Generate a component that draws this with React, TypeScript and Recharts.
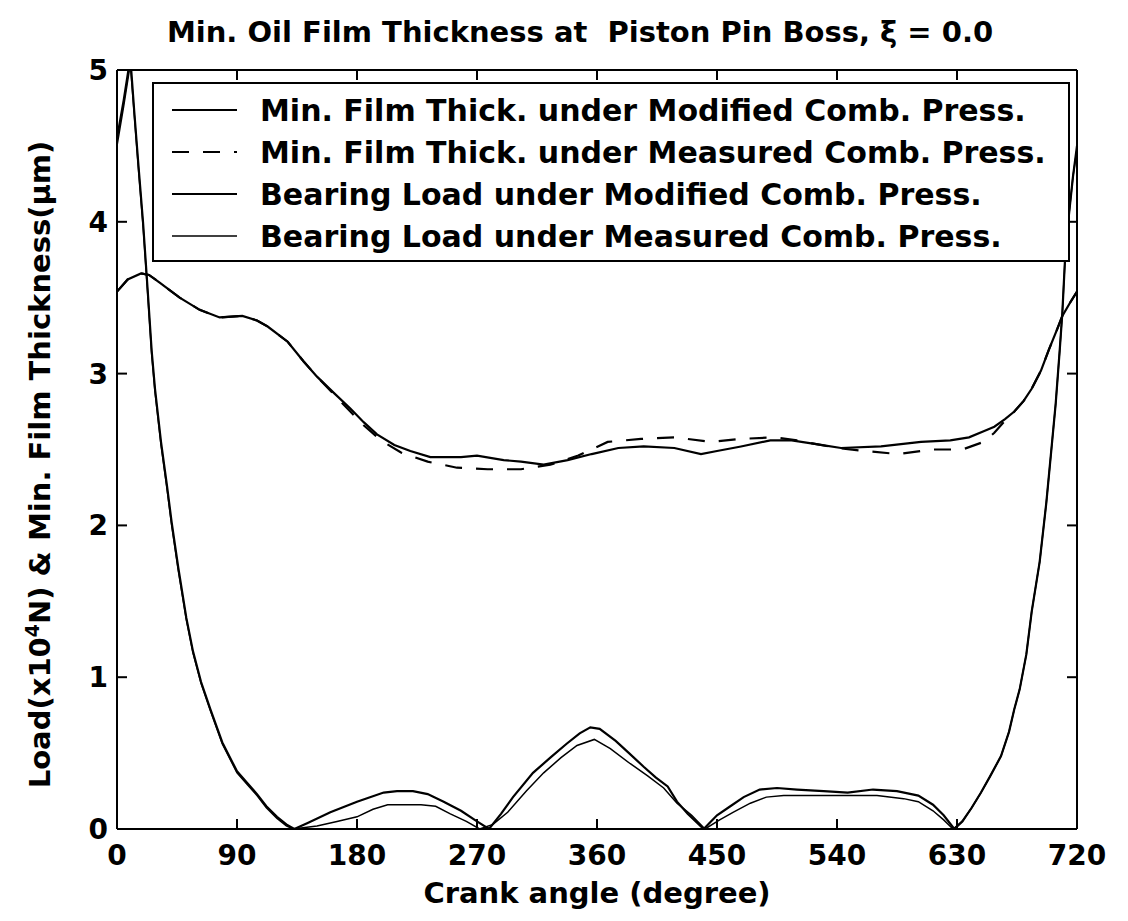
import React from 'react';
import { LineChart, Line, XAxis, YAxis, Legend } from 'recharts';

const angleTicks = [0, 90, 180, 270, 360, 450, 540, 630, 720];
const valueTicks = [0, 1, 2, 3, 4, 5];

const titleText = 'Min. Oil Film Thickness at  Piston Pin Boss, \u03BE = 0.0';
const xLabelText = 'Crank angle (degree)';

const seriesNames = [
  'Min. Film Thick. under Modified Comb. Press.',
  'Min. Film Thick. under Measured Comb. Press.',
  'Bearing Load under Modified Comb. Press.',
  'Bearing Load under Measured Comb. Press.',
];

const filmModified: [number, number][] = [
  [0, 3.54], [8, 3.62], [18, 3.66], [24, 3.65], [32, 3.6], [47, 3.5], [62, 3.42], [77, 3.37],
  [94, 3.38], [105, 3.35], [113, 3.31], [128, 3.21], [140, 3.08], [150, 2.98], [163, 2.87],
  [175, 2.77], [185, 2.68], [195, 2.6], [208, 2.53], [220, 2.49], [235, 2.45], [258, 2.45],
  [270, 2.46], [290, 2.43], [303, 2.42], [320, 2.4], [338, 2.43], [356, 2.47], [376, 2.51],
  [395, 2.52], [418, 2.51], [438, 2.47], [450, 2.49], [468, 2.52], [490, 2.56], [506, 2.56],
  [528, 2.53], [543, 2.51], [573, 2.52], [603, 2.55], [625, 2.56], [639, 2.58], [650, 2.62],
  [658, 2.65], [666, 2.7], [673, 2.75], [680, 2.82], [686, 2.9], [693, 3.02], [699, 3.16],
  [705, 3.29], [709, 3.38], [715, 3.47], [720, 3.54],
];

const filmMeasured: [number, number][] = [
  [0, 3.54], [8, 3.62], [18, 3.66], [24, 3.65], [32, 3.6], [47, 3.5], [62, 3.42], [77, 3.37],
  [94, 3.38], [105, 3.35], [113, 3.31], [128, 3.21], [140, 3.08], [150, 2.98], [163, 2.86],
  [175, 2.75], [185, 2.66], [198, 2.56], [213, 2.48], [233, 2.42], [255, 2.38], [278, 2.37],
  [303, 2.37], [325, 2.4], [346, 2.46], [368, 2.55], [393, 2.57], [418, 2.58], [446, 2.55],
  [468, 2.57], [493, 2.58], [510, 2.56], [540, 2.51], [561, 2.49], [586, 2.47], [611, 2.5],
  [634, 2.5], [650, 2.55], [658, 2.61], [666, 2.69], [673, 2.75], [680, 2.82], [686, 2.9],
  [693, 3.02], [699, 3.16], [705, 3.29], [709, 3.38], [715, 3.47], [720, 3.54],
];

const loadModified: [number, number][] = [
  [0, 4.55], [5, 4.8], [10, 5.08], [13, 4.72], [16, 4.38], [19.5, 4.0], [23, 3.55], [26, 3.15],
  [28.5, 2.9], [33, 2.55], [37.5, 2.26], [41, 2.02], [46, 1.72], [52, 1.39], [57, 1.17],
  [63, 0.97], [70, 0.79], [79, 0.57], [90, 0.38], [98, 0.3], [105, 0.23], [112, 0.15],
  [120, 0.08], [127, 0.03], [133, 0], [143, 0.04], [160, 0.11], [180, 0.18], [200, 0.24],
  [210, 0.25], [222, 0.25], [233, 0.23], [245, 0.18], [258, 0.12], [270, 0.05], [279, 0],
  [288, 0.1], [297, 0.21], [312, 0.37], [325, 0.47], [337, 0.56], [347, 0.63], [355, 0.67],
  [362, 0.66], [374, 0.58], [384, 0.5], [395, 0.41], [404, 0.34], [413, 0.28], [420, 0.18],
  [428, 0.1], [440, 0], [450, 0.09], [460, 0.15], [470, 0.21], [482, 0.26], [495, 0.27],
  [510, 0.26], [530, 0.25], [548, 0.24], [567, 0.26], [585, 0.25], [601, 0.22], [612, 0.16],
  [620, 0.09], [628, 0], [634, 0.05], [641, 0.14], [648, 0.24], [655, 0.35], [663, 0.48],
  [669, 0.64], [673, 0.79], [677, 0.92], [682, 1.15], [686, 1.43], [692, 1.76], [697, 2.15],
  [701, 2.52], [704, 2.8], [707, 3.15], [709, 3.4], [711, 3.75], [714, 4.05], [717, 4.3],
  [720, 4.5],
];

const loadMeasured: [number, number][] = [
  [0, 4.5], [5, 4.76], [10, 5.04], [13, 4.7], [16, 4.36], [19.5, 3.98], [23, 3.53], [26, 3.13],
  [28.5, 2.88], [33, 2.53], [37.5, 2.24], [41, 2.0], [46, 1.7], [52, 1.38], [57, 1.16],
  [63, 0.96], [70, 0.78], [79, 0.56], [90, 0.37], [98, 0.29], [105, 0.22], [112, 0.14],
  [120, 0.07], [127, 0.02], [132, 0], [150, 0.02], [165, 0.05], [180, 0.08], [192, 0.13],
  [203, 0.16], [215, 0.16], [228, 0.16], [239, 0.15], [250, 0.1], [262, 0.05], [272, 0],
  [282, 0.03], [293, 0.11], [307, 0.25], [320, 0.37], [333, 0.47], [345, 0.55], [358, 0.59],
  [370, 0.53], [385, 0.43], [398, 0.35], [410, 0.27], [420, 0.17], [431, 0.09], [441, 0],
  [452, 0.06], [462, 0.11], [475, 0.17], [487, 0.21], [500, 0.22], [520, 0.22], [550, 0.22],
  [570, 0.22], [590, 0.2], [601, 0.18], [612, 0.12], [620, 0.06], [627, 0], [634, 0.05],
  [641, 0.14], [648, 0.24], [655, 0.35], [663, 0.48], [669, 0.64], [673, 0.79], [677, 0.92],
  [682, 1.15], [686, 1.43], [692, 1.76], [697, 2.15], [701, 2.52], [704, 2.8], [707, 3.15],
  [709, 3.4], [711, 3.75], [714, 4.05], [717, 4.3], [720, 4.48],
];

const toPoints = (arr: [number, number][]) => arr.map(([a, v]) => ({ a, v }));

const FONT = '"DejaVu Sans", sans-serif';
const AXIS_STYLE = { stroke: '#000', strokeWidth: 2 };
const TICK_LEN = 10;
const BOTTOM_MARGIN = 16;
const LEFT_MARGIN = 9;

const BottomTick = (props: any) => {
  const { x, y, payload } = props;
  const base = y - BOTTOM_MARGIN;
  return (
    <g>
      <line x1={x} x2={x} y1={base} y2={base - TICK_LEN} stroke="#000" strokeWidth={2} />
      <text x={x} y={y} dy="0.71em" textAnchor="middle" fontFamily={FONT} fontSize={28} fontWeight="bold" fill="#000">
        {payload.value}
      </text>
    </g>
  );
};

const LeftTick = (props: any) => {
  const { x, y, payload } = props;
  const base = x + LEFT_MARGIN;
  return (
    <g>
      <line x1={base} x2={base + TICK_LEN} y1={y} y2={y} stroke="#000" strokeWidth={2} />
      <text x={x} y={y} dy="0.36em" textAnchor="end" fontFamily={FONT} fontSize={28} fontWeight="bold" fill="#000">
        {payload.value}
      </text>
    </g>
  );
};

const TopTick = (props: any) => {
  const { x, y } = props;
  return <line x1={x} x2={x} y1={y} y2={y + TICK_LEN} stroke="#000" strokeWidth={2} />;
};

const RightTick = (props: any) => {
  const { x, y } = props;
  return <line x1={x} x2={x - TICK_LEN} y1={y} y2={y} stroke="#000" strokeWidth={2} />;
};

const renderLegend = (props: any) => {
  const items = [...(props.payload || [])].sort(
    (p: any, q: any) => seriesNames.indexOf(p.value) - seriesNames.indexOf(q.value)
  );
  return (
    <svg width={918} height={180} style={{ display: 'block' }}>
      <rect x={1} y={1} width={916} height={178} fill="#fff" stroke="#000" strokeWidth={2} />
      {items.map((it: any, i: number) => {
        const y = 28 + i * 42;
        const p = it.payload || {};
        return (
          <g key={i}>
            <line
              x1={20}
              x2={85}
              y1={y}
              y2={y}
              stroke="#000"
              strokeWidth={p.strokeWidth || 2}
              strokeDasharray={p.strokeDasharray}
            />
            <text x={108} y={y} dy="0.36em" fontFamily={FONT} fontWeight="bold" fontSize={30} fill="#000">
              {it.value}
            </text>
          </g>
        );
      })}
    </svg>
  );
};

const renderYLabel = (props: any) => {
  const vb = props.viewBox || { x: 0, y: 62, width: 109, height: 759 };
  const cx = 32;
  const cy = vb.y + vb.height / 2 + 15;
  return (
    <text
      x={cx}
      y={cy}
      transform={`rotate(-90 ${cx} ${cy})`}
      textAnchor="middle"
      dy="0.36em"
      fontFamily={FONT}
      fontSize={29}
      fontWeight="bold"
      fill="#000"
    >
      Load(x10
      <tspan dy={-11} fontSize={19}>4</tspan>
      <tspan dy={11}>N) &amp; Min. Film Thickness(μm)</tspan>
    </text>
  );
};

const renderXLabel = (props: any) => {
  const vb = props.viewBox || { x: 109, y: 821, width: 960, height: 60 };
  const cx = vb.x + vb.width / 2;
  const cy = vb.y + 64;
  return (
    <text x={cx} y={cy} dy="0.36em" textAnchor="middle" fontFamily={FONT} fontSize={29} fontWeight="bold" fill="#000">
      {xLabelText}
    </text>
  );
};

export default function App() {
  return (
    <div style={{ position: 'relative', width: 1110, height: 905, background: '#fff' }}>
      <div
        style={{
          position: 'absolute',
          left: 0,
          top: 10,
          width: 1144,
          textAlign: 'center',
          fontFamily: FONT,
          fontWeight: 'bold',
          fontSize: 29,
          lineHeight: '29px',
          whiteSpace: 'pre',
          color: '#000',
        }}
      >
        {titleText}
      </div>
      <LineChart width={1110} height={905} margin={{ top: 61, right: 40, bottom: 24, left: 0 }}>
        <XAxis
          dataKey="a"
          type="number"
          domain={[0, 720]}
          ticks={angleTicks}
          interval={0}
          axisLine={AXIS_STYLE}
          tickLine={false}
          tickSize={0}
          tickMargin={BOTTOM_MARGIN}
          height={60}
          tick={BottomTick}
          label={renderXLabel}
        />
        <XAxis
          xAxisId="top"
          orientation="top"
          dataKey="a"
          type="number"
          domain={[0, 720]}
          ticks={angleTicks}
          interval={0}
          axisLine={AXIS_STYLE}
          tickLine={false}
          tickSize={0}
          tickMargin={0}
          tick={TopTick}
          height={1}
        />
        <YAxis
          type="number"
          domain={[0, 5]}
          ticks={valueTicks}
          interval={0}
          allowDataOverflow
          axisLine={AXIS_STYLE}
          tickLine={false}
          tickSize={0}
          tickMargin={LEFT_MARGIN}
          width={109}
          tick={LeftTick}
          label={renderYLabel}
        />
        <YAxis
          yAxisId="right"
          orientation="right"
          type="number"
          domain={[0, 5]}
          ticks={valueTicks}
          interval={0}
          allowDataOverflow
          axisLine={AXIS_STYLE}
          tickLine={false}
          tickSize={0}
          tickMargin={0}
          tick={RightTick}
          width={1}
        />
        <Line
          data={toPoints(filmModified)}
          dataKey="v"
          name={seriesNames[0]}
          type="linear"
          stroke="#000"
          strokeWidth={2.2}
          dot={false}
          activeDot={false}
          isAnimationActive={false}
        />
        <Line
          data={toPoints(filmMeasured)}
          dataKey="v"
          name={seriesNames[1]}
          type="linear"
          stroke="#000"
          strokeWidth={2.2}
          strokeDasharray="17 14"
          dot={false}
          activeDot={false}
          isAnimationActive={false}
        />
        <Line
          data={toPoints(loadModified)}
          dataKey="v"
          name={seriesNames[2]}
          type="linear"
          stroke="#000"
          strokeWidth={2.2}
          dot={false}
          activeDot={false}
          isAnimationActive={false}
        />
        <Line
          data={toPoints(loadMeasured)}
          xAxisId="top"
          yAxisId="right"
          dataKey="v"
          name={seriesNames[3]}
          type="linear"
          stroke="#000"
          strokeWidth={1.5}
          dot={false}
          activeDot={false}
          isAnimationActive={false}
        />
        <Legend
          layout="vertical"
          align="center"
          verticalAlign="middle"
          content={renderLegend}
          wrapperStyle={{ position: 'absolute', left: 144, top: 74, width: 918, height: 180, margin: 0 }}
        />
      </LineChart>
    </div>
  );
}
